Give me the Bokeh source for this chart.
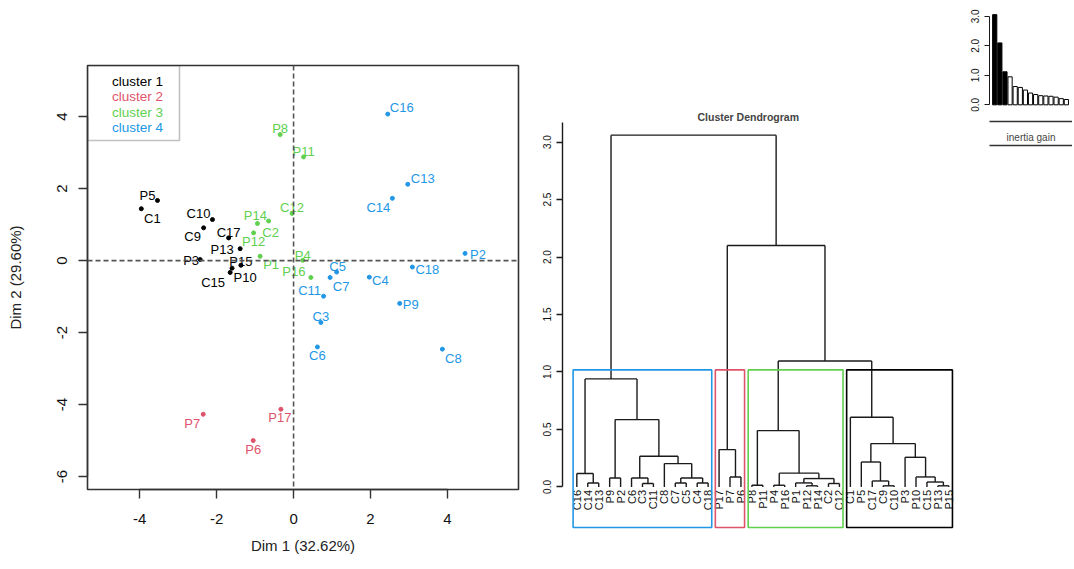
import math
from bokeh.plotting import figure
from bokeh.models import (ColumnDataSource, Span, FixedTicker, PrintfTickFormatter,
                          LinearAxis, Range1d, Spacer, BoxAnnotation)
from bokeh.layouts import row, column
from bokeh.embed import file_html
from bokeh.resources import INLINE
from bokeh.core.properties import value

FONT = "Liberation Sans"

# ------------------------------------------------------------------ data
CLUSTER_NAMES = ["cluster 1", "cluster 2", "cluster 3", "cluster 4"]
CLUSTER_COLORS = ["#000000", "#DF536B", "#61D04F", "#2297E6"]

POINT_NAMES = ["P5", "C1", "C10", "C9", "C17", "P13", "P3", "P15", "P10", "C15",
               "P7", "P17", "P6",
               "P8", "P11", "C12", "P14", "C2", "P12", "P1", "P4", "P16",
               "C16", "C13", "C14", "P2", "C18", "C5", "C7", "C4", "C11", "P9", "C3", "C6", "C8"]
POINT_DIM1 = [-3.54, -3.96, -2.11, -2.34, -1.69, -1.39, -2.43, -1.37, -1.60, -1.65,
              -2.35, -0.33, -1.05,
              -0.35, 0.26, -0.04, -0.94, -0.65, -1.04, -0.87, 0.24, 0.45,
              2.45, 2.97, 2.57, 4.46, 3.09, 1.12, 0.95, 1.97, 0.78, 2.76, 0.71, 0.62, 3.87]
POINT_DIM2 = [1.67, 1.44, 1.14, 0.91, 0.63, 0.33, 0.03, -0.13, -0.21, -0.33,
              -4.27, -4.13, -5.00,
              3.50, 2.88, 1.31, 1.03, 1.10, 0.77, 0.12, 0.01, -0.47,
              4.07, 2.12, 1.73, 0.20, -0.18, -0.32, -0.47, -0.46, -0.99, -1.19, -1.72, -2.40, -2.46]
POINT_CLUSTER = [1] * 10 + [2] * 3 + [3] * 9 + [4] * 13

# label nudges (pixels) used to place the point names next to their dots
LABEL_NUDGE_X = [-10, 11, -14, -11, 0, -18, -9, 0, 13, -17,
                 -11, -1, 0,
                 0, 0, 0, -2, 2, 0, 11, 0, -17,
                 14, 15, -14, 13, 15, 1, 11, 11, -14, 11, 0, 0, 11]
LABEL_NUDGE_Y = [-5, 10, -6, 9, -5, 1, 1, -4, 9, 10,
                 9, 8, 9,
                 -6, -5, -6, -8, 12, 9, 8, -5, -6,
                 -7, -6, 9, 1, 2, -6, 9, 3, -6, 1, -6, 9, 9]

DIM1_LABEL = "Dim 1 (32.62%)"
DIM2_LABEL = "Dim 2 (29.60%)"

# dendrogram: leaf order, merges (leaf name or 1-based merge index) and heights
DEND_LEAVES = ["C16", "C14", "C13", "P9", "P2", "C6", "C3", "C11", "C8", "C7", "C5", "C4", "C18",
               "P17", "P7", "P6",
               "P8", "P11", "P4", "P16", "P1", "P12", "P14", "C2", "C12",
               "C1", "P5", "C17", "C9", "C10", "P3", "P10", "C15", "P13", "P15"]
DEND_MERGES = [("C14", "C13"), ("C16", 1), ("P9", "P2"), ("C3", "C11"), ("C6", 4),
               ("C7", "C5"), ("C4", "C18"), (6, 7), ("C8", 8), (5, 9), (3, 10), (2, 11),
               ("P7", "P6"), ("P17", 13),
               ("P8", "P11"), ("P4", "P16"), ("P12", "P14"), ("P1", 17), ("C2", "C12"),
               (18, 19), (16, 20), (15, 21),
               ("C9", "C10"), ("C17", 23), ("P5", 24), ("P13", "P15"), ("C15", 26),
               ("P10", 27), ("P3", 28), (25, 29), ("C1", 30),
               (22, 31), (14, 32), (12, 33)]
DEND_HEIGHTS = [0.035, 0.117, 0.078, 0.03, 0.078,
                0.035, 0.035, 0.078, 0.203, 0.267, 0.586, 0.94,
                0.087, 0.325,
                0.015, 0.015, 0.01, 0.035, 0.03,
                0.073, 0.12, 0.49,
                0.01, 0.052, 0.217, 0.01, 0.043,
                0.087, 0.258, 0.377, 0.606,
                1.096, 2.10, 3.06]
DEND_CLUSTER_SIZES = [13, 3, 9, 10]
DEND_CLUSTER_COLORS = ["#2297E6", "#DF536B", "#61D04F", "#000000"]
DEND_TICKS = [0.0, 0.5, 1.0, 1.5, 2.0, 2.5, 3.0]

INERTIA_GAIN = [3.06, 2.10, 1.12, 0.95, 0.62, 0.59, 0.50, 0.40, 0.35,
                0.31, 0.30, 0.29, 0.26, 0.21, 0.18]
INERTIA_TICKS = [0, 1, 2, 3]

LINE = "#1a1a1a"
H = 566

# ------------------------------------------------------------------ factor map
xr = Range1d(-5.36, 5.85)
yr = Range1d(-6.36, 5.42)
p = figure(width=530, height=H, x_range=xr, y_range=yr, output_backend="svg",
           toolbar_location=None, min_border_left=87, min_border_right=12,
           min_border_top=65, min_border_bottom=H - 489)
p.xgrid.visible = False
p.ygrid.visible = False
p.outline_line_color = "#333333"
p.outline_line_width = 1.6
p.background_fill_color = "white"
p.border_fill_color = "white"

for ax in (p.xaxis[0], p.yaxis[0]):
    ax.major_tick_out = 9
    ax.major_tick_in = 0
    ax.minor_tick_line_color = None
    ax.axis_line_color = "#333333"
    ax.axis_line_width = 1.4
    ax.major_tick_line_color = "#333333"
    ax.major_tick_line_width = 1.4
    ax.major_label_text_font = FONT
    ax.major_label_text_font_size = "15px"
    ax.major_label_text_color = "#111111"
    ax.axis_label_text_font = FONT
    ax.axis_label_text_font_size = "15px"
    ax.axis_label_text_font_style = "normal"
    ax.axis_label_text_color = "#222222"
    ax.formatter = PrintfTickFormatter(format="%d")
p.xaxis.ticker = FixedTicker(ticks=[-4, -2, 0, 2, 4])
p.yaxis.ticker = FixedTicker(ticks=[-6, -4, -2, 0, 2, 4])
p.xaxis.bounds = (-4, 4)
p.yaxis.bounds = (-6, 4)
p.xaxis.axis_label = DIM1_LABEL
p.yaxis.axis_label = DIM2_LABEL
p.xaxis.major_label_standoff = 15
p.xaxis.axis_label_standoff = 10
p.yaxis.major_label_orientation = "vertical"
p.yaxis.major_label_standoff = 11
p.yaxis.axis_label_standoff = 31

p.add_layout(Span(location=0, dimension="height", line_color="#555555",
                  line_dash="5 3", line_width=1.6))
p.add_layout(Span(location=0, dimension="width", line_color="#555555",
                  line_dash="5 3", line_width=1.6))

src = ColumnDataSource(dict(
    x=POINT_DIM1, y=POINT_DIM2, name=POINT_NAMES,
    color=[CLUSTER_COLORS[c - 1] for c in POINT_CLUSTER],
    dx=LABEL_NUDGE_X, dy=LABEL_NUDGE_Y))
p.scatter("x", "y", source=src, size=4, color="color")
p.text("x", "y", text="name", source=src, text_color="color", x_offset="dx", y_offset="dy",
       text_align="center", text_baseline="middle", text_font=value(FONT),
       text_font_size="13px")

# legend box (text only, like R's legend with no symbols)
px_x = (xr.end - xr.start) / 431.0
px_y = (yr.end - yr.start) / 424.0
p.add_layout(BoxAnnotation(left=xr.start, right=xr.start + 92 * px_x,
                           top=yr.end, bottom=yr.end - 75 * px_y,
                           fill_alpha=0, line_color="#333333", line_width=1.6))
leg = ColumnDataSource(dict(
    x=[xr.start + 50 * px_x] * 4,
    y=[yr.end - (16 + 15.3 * i) * px_y for i in range(4)],
    t=CLUSTER_NAMES, c=CLUSTER_COLORS))
p.text("x", "y", text="t", source=leg, text_color="c", text_align="center",
       text_baseline="middle", text_font=value(FONT), text_font_size="13.5px")

# ------------------------------------------------------------------ dendrogram
n = len(DEND_LEAVES)
leaf_pos = {nm: i + 1 for i, nm in enumerate(DEND_LEAVES)}
node_pos, node_h = {}, {}
x0s, y0s, x1s, y1s = [], [], [], []


def loc(ref):
    if isinstance(ref, str):
        return leaf_pos[ref], 0.0
    return node_pos[ref], node_h[ref]


for i, (a, b) in enumerate(DEND_MERGES):
    h = DEND_HEIGHTS[i]
    xa, ha = loc(a)
    xb, hb = loc(b)
    x0s += [xa, xa, xb]
    y0s += [ha, h, hb]
    x1s += [xa, xb, xb]
    y1s += [h, h, h]
    node_pos[i + 1] = (xa + xb) / 2.0
    node_h[i + 1] = h

d = figure(width=433, height=H, x_range=Range1d(-0.31, 36.34), y_range=Range1d(-0.37, 3.17),
           output_backend="svg", toolbar_location=None, min_border_left=32,
           min_border_right=0, min_border_top=122, min_border_bottom=H - 529)
d.xgrid.visible = False
d.ygrid.visible = False
d.outline_line_color = None
d.xaxis.visible = False
d.border_fill_color = "white"
d.title.text = "Cluster Dendrogram"
d.title.text_font = FONT
d.title.text_font_size = "10.5px"
d.title.text_font_style = "bold"
d.title.align = "left"
d.title.offset = 135
d.title.standoff = 0
d.segment(x0=x0s, y0=y0s, x1=x1s, y1=y1s, line_color=LINE, line_width=1.4)
d.text(x=list(range(1, n + 1)), y=[0.0] * n, text=DEND_LEAVES, angle=math.pi / 2,
       y_offset=3, text_align="right", text_baseline="middle", text_font=value(FONT),
       text_font_size="11px", text_color="#111111")

ya = d.yaxis[0]
ya.ticker = FixedTicker(ticks=DEND_TICKS)
ya.formatter = PrintfTickFormatter(format="%.1f")
ya.bounds = (0, 3.17)
ya.major_tick_out = 6
ya.major_tick_in = 0
ya.minor_tick_line_color = None
ya.axis_line_color = LINE
ya.axis_line_width = 1.4
ya.major_tick_line_color = LINE
ya.major_tick_line_width = 1.4
ya.major_label_orientation = "vertical"
ya.major_label_text_font = FONT
ya.major_label_text_font_size = "10px"
ya.major_label_text_color = "#111111"
ya.major_label_standoff = 5

sorted_h = sorted(DEND_HEIGHTS, reverse=True)
k = len(DEND_CLUSTER_SIZES)
top_box = (sorted_h[k - 2] + sorted_h[k - 1]) / 2.0
starts = [sum(DEND_CLUSTER_SIZES[:j]) for j in range(k)]
d.quad(left=[s + 0.66 for s in starts],
       right=[s + m + 0.33 for s, m in zip(starts, DEND_CLUSTER_SIZES)],
       bottom=[-0.353] * k, top=[top_box] * k, fill_alpha=0,
       line_color=DEND_CLUSTER_COLORS, line_width=1.6)

# ------------------------------------------------------------------ inertia gain inset
g = figure(width=109, height=160, x_range=Range1d(-0.02, 16.2), y_range=Range1d(-0.566, 3.2),
           output_backend="svg", toolbar_location=None, min_border_left=26,
           min_border_right=0, min_border_top=10, min_border_bottom=39)
g.xgrid.visible = False
g.ygrid.visible = False
g.outline_line_color = None
g.border_fill_color = "white"
m = len(INERTIA_GAIN)
g.vbar(x=list(range(1, m + 1)), top=INERTIA_GAIN, bottom=0, width=0.82,
       fill_color=["black" if i < k - 1 else "white" for i in range(m)],
       line_color="black", line_width=1)
gy = g.yaxis[0]
gy.ticker = FixedTicker(ticks=INERTIA_TICKS)
gy.formatter = PrintfTickFormatter(format="%.1f")
gy.bounds = (0, 3)
gy.major_tick_out = 5
gy.major_tick_in = 0
gy.minor_tick_line_color = None
gy.axis_line_color = LINE
gy.major_tick_line_color = LINE
gy.major_label_orientation = "vertical"
gy.major_label_text_font = FONT
gy.major_label_text_font_size = "10px"
gy.major_label_text_color = "#111111"
gy.major_label_standoff = 5
gx = g.xaxis[0]
gx.ticker = FixedTicker(ticks=[])
gx.major_tick_out = 0
gx.major_label_standoff = 0
gx.axis_line_color = "#333333"
gx.axis_line_width = 1.6
gx.axis_label = "inertia gain"
gx.axis_label_text_font = FONT
gx.axis_label_text_font_size = "10px"
gx.axis_label_text_font_style = "normal"
gx.axis_label_standoff = 10
gx2 = LinearAxis(ticker=FixedTicker(ticks=[]), major_tick_out=0, major_label_standoff=2,
                 axis_line_color="#333333", axis_line_width=1.6)
g.add_layout(gx2, "below")

layout = row(column(p), column(d), column(g, Spacer(width=109, height=H - 160)), spacing=0)
open("out.html", "w").write(file_html(layout, INLINE))
